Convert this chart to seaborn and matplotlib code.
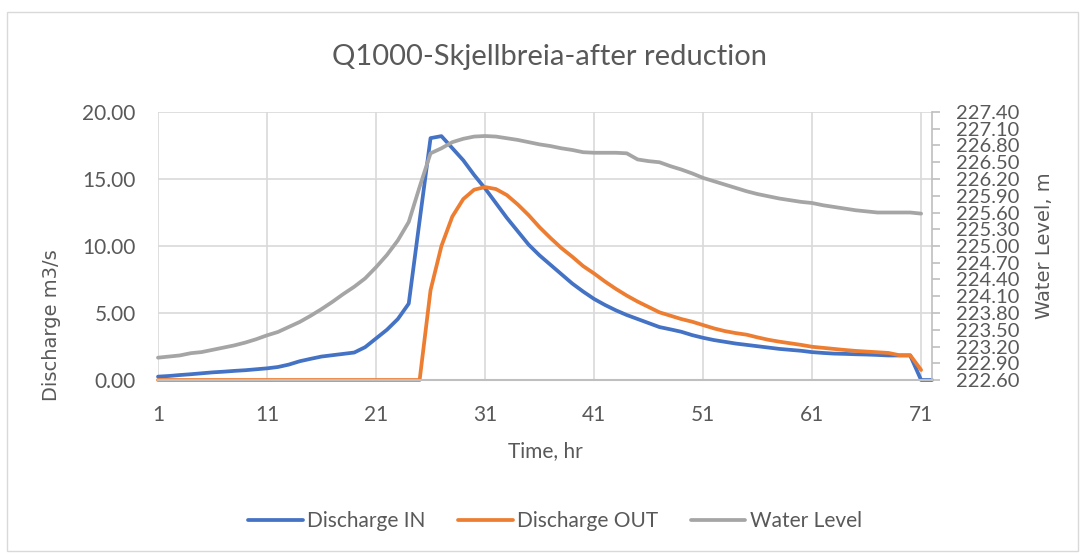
import numpy as np
import pandas as pd
import seaborn as sns
import matplotlib.pyplot as plt
from matplotlib.patches import Rectangle
from matplotlib.ticker import FormatStrFormatter

# hourly values
hours = list(range(1, 73))

discharge_in = [
    0.25, 0.30, 0.37, 0.43, 0.50, 0.57, 0.62, 0.68, 0.73, 0.80,
    0.87, 0.97, 1.15, 1.40, 1.58, 1.75, 1.85, 1.95, 2.05, 2.45,
    3.10, 3.75, 4.55, 5.70, 11.90, 18.05, 18.20, 17.30, 16.40, 15.30,
    14.30, 13.20, 12.10, 11.10, 10.10, 9.30, 8.60, 7.90, 7.20, 6.60,
    6.05, 5.60, 5.20, 4.85, 4.55, 4.25, 3.95, 3.78, 3.60, 3.35,
    3.15, 2.98, 2.85, 2.72, 2.62, 2.52, 2.42, 2.32, 2.25, 2.18,
    2.08, 2.02, 1.97, 1.95, 1.92, 1.90, 1.87, 1.83, 1.83, 1.83,
    0.00, 0.00,
]

discharge_out = [
    0.0, 0.0, 0.0, 0.0, 0.0, 0.0, 0.0, 0.0, 0.0, 0.0,
    0.0, 0.0, 0.0, 0.0, 0.0, 0.0, 0.0, 0.0, 0.0, 0.0,
    0.0, 0.0, 0.0, 0.0, 0.0, 6.70, 10.00, 12.20, 13.50, 14.20,
    14.40, 14.25, 13.80, 13.10, 12.30, 11.40, 10.60, 9.85, 9.20, 8.50,
    7.95, 7.35, 6.80, 6.30, 5.85, 5.45, 5.05, 4.80, 4.55, 4.35,
    4.10, 3.85, 3.65, 3.50, 3.38, 3.18, 3.00, 2.86, 2.74, 2.62,
    2.48, 2.40, 2.32, 2.24, 2.17, 2.12, 2.07, 2.02, 1.85, 1.85,
    0.75, np.nan,
]

water_level = [
    223.00, 223.02, 223.04, 223.08, 223.10, 223.14, 223.18, 223.22, 223.27, 223.33,
    223.40, 223.46, 223.55, 223.64, 223.75, 223.87, 224.00, 224.14, 224.27, 224.42,
    224.62, 224.84, 225.10, 225.43, 226.06, 226.66, 226.75, 226.86, 226.92, 226.96,
    226.97, 226.96, 226.93, 226.90, 226.86, 226.82, 226.79, 226.75, 226.72, 226.68,
    226.67, 226.67, 226.67, 226.66, 226.55, 226.52, 226.50, 226.43, 226.37, 226.30,
    226.22, 226.16, 226.10, 226.04, 225.98, 225.93, 225.89, 225.85, 225.82, 225.79,
    225.77, 225.73, 225.70, 225.67, 225.64, 225.62, 225.60, 225.60, 225.60, 225.60,
    225.58, np.nan,
]

x_ticks = [1, 11, 21, 31, 41, 51, 61, 71]
left_ticks = [0, 5, 10, 15, 20]
right_ticks = [round(222.6 + 0.3 * i, 2) for i in range(17)]

TEXT = '#595959'
GRID = '#d9d9d9'
AXIS = '#bfbfbf'

sns.set_style('white')
plt.rcParams['font.family'] = ['Lato', 'DejaVu Sans']

df = pd.DataFrame({'hour': hours, 'in': discharge_in, 'out': discharge_out, 'level': water_level})

fig, ax = plt.subplots(figsize=(10.84, 5.54), dpi=100)
fig.subplots_adjust(left=158 / 1084, right=932 / 1084, top=1 - 112 / 554, bottom=1 - 380 / 554)
ax2 = ax.twinx()

sns.lineplot(data=df, x='hour', y='in', color='#4472c4', lw=2.7, label='Discharge IN', legend=False, ax=ax)
sns.lineplot(data=df, x='hour', y='out', color='#ed7d31', lw=2.7, label='Discharge OUT', legend=False, ax=ax)
sns.lineplot(data=df, x='hour', y='level', color='#a5a5a5', lw=2.7, label='Water Level', legend=False, ax=ax2)
# excel does not clip the series at the axis edge
for line in ax.lines + ax2.lines:
    line.set_clip_on(False)
    line.set_solid_joinstyle('round')

ax.set_xlim(1, 72)
ax.set_ylim(0, 20)
ax2.set_ylim(222.6, 227.4)
ax.set_xticks(x_ticks)
ax.set_yticks(left_ticks)
ax2.set_yticks(right_ticks)
ax.yaxis.set_major_formatter(FormatStrFormatter('%.2f'))
ax2.yaxis.set_major_formatter(FormatStrFormatter('%.2f'))

ax.set_axisbelow(True)
ax.grid(True, color=GRID, lw=1.2)
ax.set_xlabel('')
ax.set_ylabel('')
ax2.set_ylabel('')

for a in (ax, ax2):
    for s in ('top', 'left', 'right', 'bottom'):
        a.spines[s].set_visible(False)
ax.spines['bottom'].set_visible(True)
ax.spines['bottom'].set_color(AXIS)
ax.spines['bottom'].set_linewidth(1.5)
ax2.spines['right'].set_visible(True)
ax2.spines['right'].set_color(AXIS)
ax2.spines['right'].set_linewidth(1.2)

ax.tick_params(axis='x', length=0, pad=18, labelsize=15, labelcolor=TEXT)
ax.tick_params(axis='y', length=0, pad=16, labelsize=15, labelcolor=TEXT)
ax2.tick_params(axis='y', length=6, width=1.2, color=AXIS, direction='out', pad=11,
                labelsize=14.5, labelcolor=TEXT)

fig.text(550 / 1084, 1 - 57 / 554, 'Q1000-Skjellbreia-after reduction', ha='center', va='center',
         fontsize=21, color=TEXT)
fig.text(545 / 1084, 1 - 451 / 554, 'Time, hr', ha='center', va='center', fontsize=15, color=TEXT)
fig.text(52 / 1084, 1 - 325 / 554, 'Discharge m3/s', rotation=90, ha='center', va='center',
         fontsize=14, color=TEXT, family='DejaVu Sans')
fig.text(1045 / 1084, 1 - 246 / 554, 'Water Level, m', rotation=90, ha='center', va='center',
         fontsize=14, color=TEXT, family='DejaVu Sans')

h1, l1 = ax.get_legend_handles_labels()
h2, l2 = ax2.get_legend_handles_labels()
fig.legend(h1 + h2, l1 + l2, loc='center', bbox_to_anchor=(555 / 1084, 1 - 521 / 554), ncol=3,
           frameon=False, fontsize=15, handlelength=2.6, handletextpad=0.2, columnspacing=1.6,
           labelcolor=TEXT)

fig.patches.append(Rectangle((7 / 1084, 3 / 554), 1071 / 1084, 539 / 554, transform=fig.transFigure,
                             fill=False, edgecolor=GRID, lw=1.0))

fig.savefig('out.png', dpi=100)
